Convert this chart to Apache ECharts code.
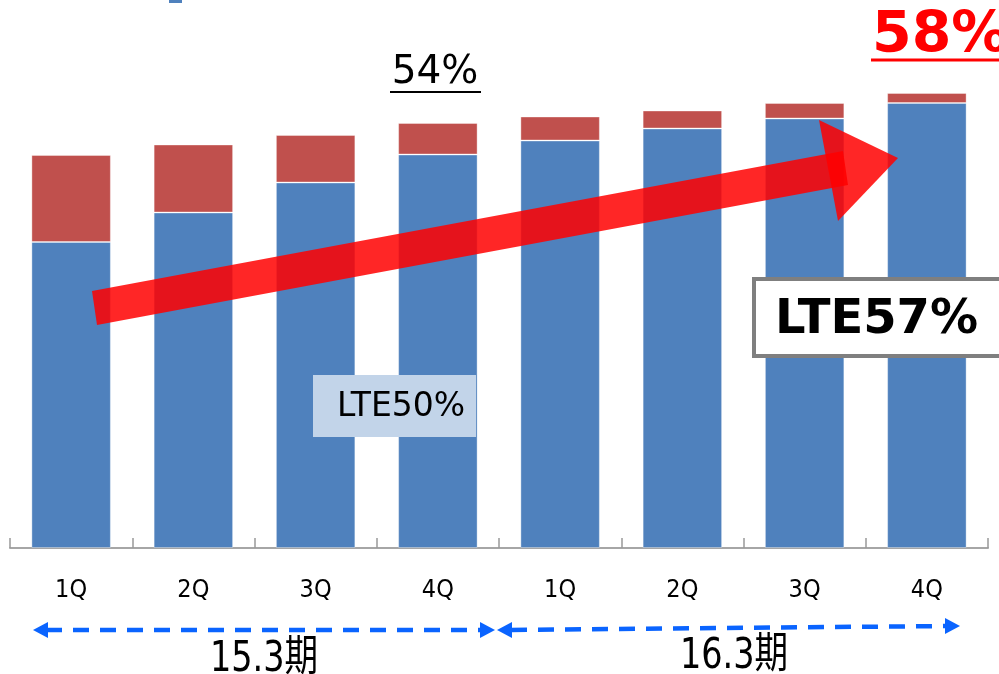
<!DOCTYPE html>
<html>
<head>
<meta charset="utf-8">
<script src="https://cdn.jsdelivr.net/npm/echarts@6/dist/echarts.min.js"></script>
<style>
  html, body { margin: 0; padding: 0; background: #fff; }
  #chart { width: 999px; height: 674px; }
</style>
</head>
<body>
<div id="chart"></div>
<script>
// quarters, two fiscal years (15.3期 / 16.3期)
const quarters = ['1Q', '2Q', '3Q', '4Q', '1Q', '2Q', '3Q', '4Q']
// LTE share part (blue) and the rest (red) — hidden axis
const lteValues = [61.2, 67.1, 73.1, 78.7, 81.5, 83.9, 85.9, 89.0]
const otherValues = [17.4, 13.6, 9.5, 6.3, 4.8, 3.6, 3.1, 2.0]
const periods = ['15.3期', '16.3期']

const BLUE = '#4F81BD'
const RED = '#C0504D'
const ARROW_RED = 'rgba(255,0,0,0.85)'
const DASH_BLUE = '#0A64FF'

const chart = echarts.init(document.getElementById('chart'))

const option = {
  animation: false,
  grid: { left: 10, right: 11, top: 48, bottom: 126 },
  xAxis: {
    type: 'category',
    data: quarters,
    axisLine: { lineStyle: { color: '#A6A6A6', width: 2 } },
    axisTick: { show: true, inside: true, length: 10, lineStyle: { color: '#999', width: 1.5 } },
    axisLabel: {
      interval: 0,
      margin: 30,
      color: '#000',
      fontSize: 25,
      fontFamily: '"DejaVu Sans Condensed", "Liberation Sans Narrow", sans-serif'
    }
  },
  yAxis: {
    type: 'value',
    min: 0,
    max: 100,
    show: false
  },
  series: [
    {
      name: 'LTE',
      type: 'bar',
      stack: 'total',
      barWidth: '65%',
      data: lteValues,
      itemStyle: { color: BLUE, borderColor: 'rgba(255,255,255,0.35)', borderWidth: 1 }
    },
    {
      name: 'other',
      type: 'bar',
      stack: 'total',
      barWidth: '65%',
      data: otherValues,
      itemStyle: { color: RED, borderColor: 'rgba(255,255,255,0.35)', borderWidth: 1 }
    }
  ],
  graphic: [
    // clipped legend swatch at the very top
    { type: 'rect', shape: { x: 169, y: 0, width: 13, height: 3 }, style: { fill: BLUE } },

    // 54% label with underline
    {
      type: 'text', x: 435, y: 73,
      style: { text: '54%', font: '39px "DejaVu Sans"', fill: '#000', align: 'center', verticalAlign: 'middle' }
    },
    { type: 'line', shape: { x1: 390, y1: 92, x2: 481, y2: 92 }, style: { stroke: '#000', lineWidth: 2 } },

    // 58% red label with underline
    {
      type: 'text', x: 872, y: 37,
      style: { text: '58%', font: 'bold 57px "DejaVu Sans"', fill: '#FF0000', align: 'left', verticalAlign: 'middle' }
    },
    { type: 'line', shape: { x1: 871, y1: 60, x2: 999, y2: 60 }, style: { stroke: '#FF0000', lineWidth: 3 } },

    // LTE50% box
    { type: 'rect', shape: { x: 313, y: 375, width: 163, height: 62 }, style: { fill: '#C2D4E9' }, z: 10 },
    {
      type: 'text', x: 401, y: 407, z: 11,
      style: { text: 'LTE50%', font: '33px "DejaVu Sans"', fill: '#000', align: 'center', verticalAlign: 'middle' }
    },

    // big trend arrow (shaft + head, both semi-transparent)
    {
      type: 'polygon', z: 20,
      shape: { points: [[92, 291], [843, 151], [848, 185], [97, 325]] },
      style: { fill: ARROW_RED }
    },
    {
      type: 'polygon', z: 21,
      shape: { points: [[819, 120], [898, 158], [838, 221]] },
      style: { fill: ARROW_RED }
    },

    // LTE57% box
    {
      type: 'rect', z: 30,
      shape: { x: 754, y: 279, width: 260, height: 77 },
      style: { fill: '#fff', stroke: '#7F7F7F', lineWidth: 4 }
    },
    {
      type: 'text', x: 775, y: 321, z: 31,
      style: { text: 'LTE57%', font: 'bold 48px "DejaVu Sans"', fill: '#000', align: 'left', verticalAlign: 'middle' }
    },

    // period arrows (dashed, double headed)
    {
      type: 'line', shape: { x1: 46, y1: 630, x2: 481, y2: 630 },
      style: { stroke: DASH_BLUE, lineWidth: 4.5, lineDash: [16, 11] }
    },
    { type: 'polygon', shape: { points: [[33, 630], [48, 622], [48, 638]] }, style: { fill: DASH_BLUE } },
    { type: 'polygon', shape: { points: [[495, 630], [480, 622], [480, 638]] }, style: { fill: DASH_BLUE } },
    {
      type: 'line', shape: { x1: 511, y1: 630, x2: 946, y2: 626 },
      style: { stroke: DASH_BLUE, lineWidth: 4.5, lineDash: [16, 11] }
    },
    { type: 'polygon', shape: { points: [[497, 630], [512, 622], [512, 638]] }, style: { fill: DASH_BLUE } },
    { type: 'polygon', shape: { points: [[960, 626], [945, 618], [945, 634]] }, style: { fill: DASH_BLUE } },

    // period labels
    {
      type: 'text', x: 264, y: 660, scaleX: 0.78,
      style: { text: periods[0], font: '43px "DejaVu Sans", "Noto Sans CJK JP"', fill: '#000', align: 'center', verticalAlign: 'middle' }
    },
    {
      type: 'text', x: 734, y: 657, scaleX: 0.78,
      style: { text: periods[1], font: '43px "DejaVu Sans", "Noto Sans CJK JP"', fill: '#000', align: 'center', verticalAlign: 'middle' }
    }
  ]
}

chart.setOption(option)
</script>
</body>
</html>
